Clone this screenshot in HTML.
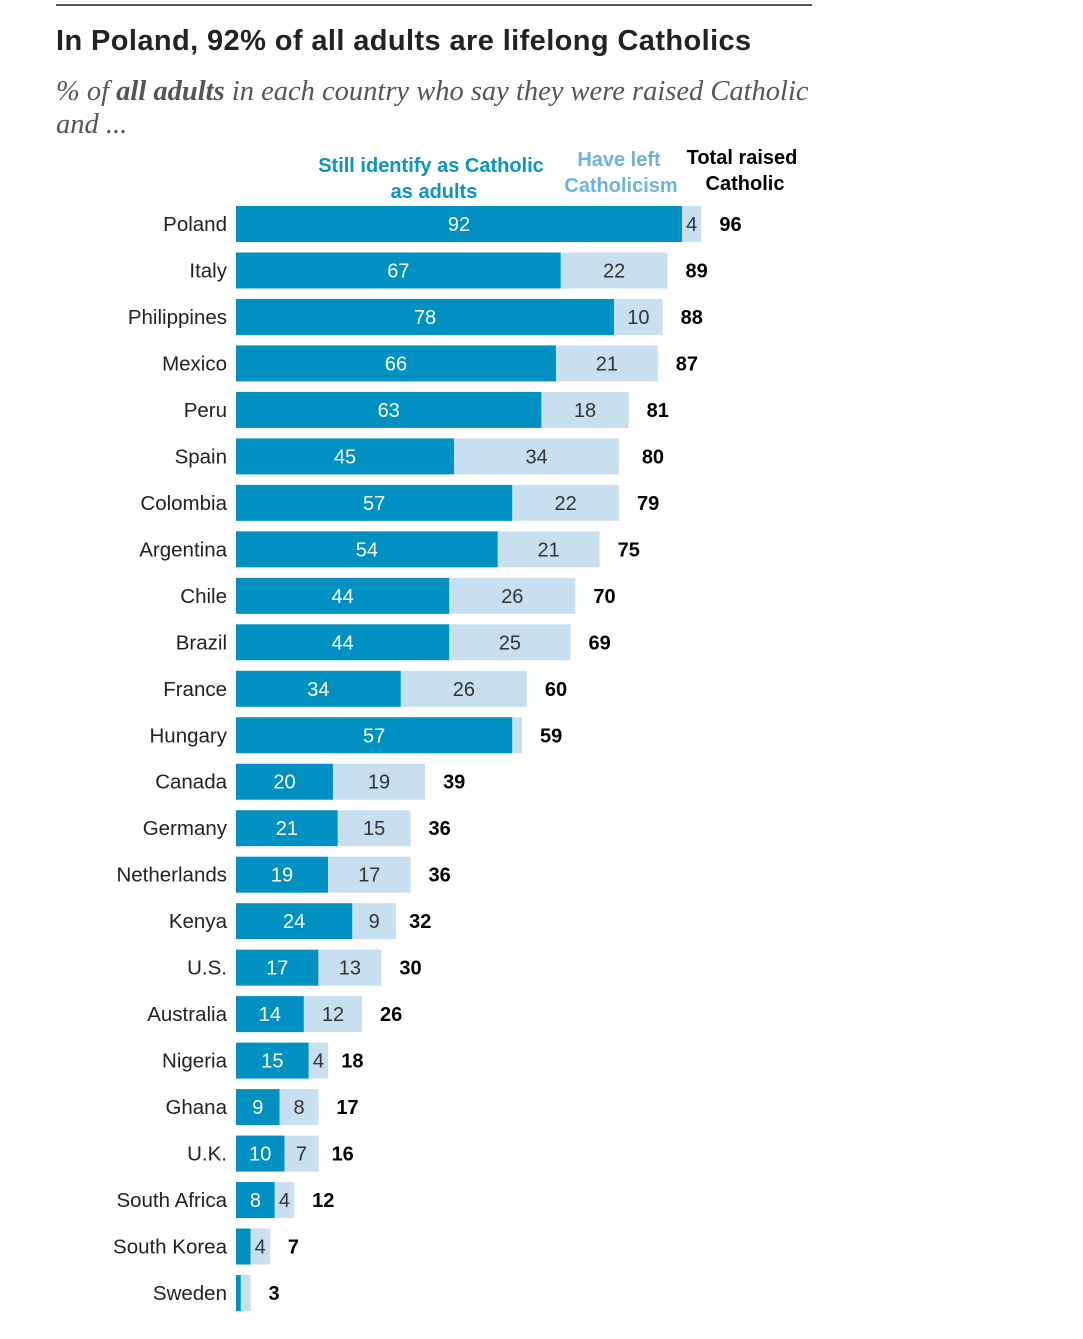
<!DOCTYPE html>
<html><head><meta charset="utf-8">
<style>
html,body{margin:0;padding:0;background:#fff;}
body{width:1083px;height:1339px;position:relative;overflow:hidden;font-family:"Liberation Sans",sans-serif;}
#topline{position:absolute;left:56px;top:4px;width:756px;height:2px;background:#555;}
#title{position:absolute;left:56px;top:25px;font-family:"Liberation Sans Narrow","Liberation Sans",sans-serif;font-weight:bold;font-size:29px;color:#222;white-space:nowrap;letter-spacing:0.4px;}
#subtitle{position:absolute;left:56px;top:75px;width:765px;font-family:"Liberation Serif",serif;font-style:italic;font-size:28.5px;line-height:33px;color:#555;}
svg{position:absolute;left:0;top:0;}
</style></head>
<body>
<div id="topline"></div>
<div id="title">In Poland, 92% of all adults are lifelong Catholics</div>
<div id="subtitle">% of <b>all adults</b> in each country who say they were raised Catholic and ...</div>
<svg id="chart" width="1083" height="1339">
<g font-family="'Liberation Sans Narrow','Liberation Sans',sans-serif" font-weight="bold" font-size="20" text-anchor="middle">
<text x="431" y="172" fill="#0a93c3">Still identify as Catholic</text>
<text x="434" y="198" fill="#0a93c3">as adults</text>
<text x="619" y="166" fill="#6db3dd">Have left</text>
<text x="621" y="192" fill="#6db3dd">Catholicism</text>
<text x="742" y="164" fill="#000">Total raised</text>
<text x="745" y="190" fill="#000">Catholic</text>
</g>
<g id="bars"></g>
</svg>
<script>
const countries=["Poland","Italy","Philippines","Mexico","Peru","Spain","Colombia","Argentina","Chile","Brazil","France","Hungary","Canada","Germany","Netherlands","Kenya","U.S.","Australia","Nigeria","Ghana","U.K.","South Africa","South Korea","Sweden"];
const stillCatholic=[92,67,78,66,63,45,57,54,44,44,34,57,20,21,19,24,17,14,15,9,10,8,3,1];
const leftCatholic=[4,22,10,21,18,34,22,21,26,25,26,2,19,15,17,9,13,12,4,8,7,4,4,2];
const totalRaised=[96,89,88,87,81,80,79,75,70,69,60,59,39,36,36,32,30,26,18,17,16,12,7,3];
const showStill=[1,1,1,1,1,1,1,1,1,1,1,1,1,1,1,1,1,1,1,1,1,1,0,0];
const showLeft=[1,1,1,1,1,1,1,1,1,1,1,0,1,1,1,1,1,1,1,1,1,1,1,0];
const x0=236,k=446/92,yTop=224,step=1069/23,bh=36;
const X=v=>x0+v*k, Y=i=>yTop+i*step;
const g=document.getElementById('bars');
const NS="http://www.w3.org/2000/svg";
function mk(tag,attrs,txt){const e=document.createElementNS(NS,tag);for(const a in attrs)e.setAttribute(a,attrs[a]);if(txt!==undefined)e.textContent=txt;g.appendChild(e);return e;}
countries.forEach((c,i)=>{
  const cy=Y(i);
  const lab=mk('text',{x:227,y:cy+7,'text-anchor':'end','font-size':20.5,fill:'#222','font-family':'Liberation Sans, sans-serif'},c);
  
  
  const d=mk('rect',{x:x0,y:cy-bh/2,width:stillCatholic[i]*k,height:bh,fill:'#0090c1'});
  
  
  const l=mk('rect',{x:X(stillCatholic[i]),y:cy-bh/2,width:leftCatholic[i]*k,height:bh,fill:'#c8dfef'});
  
  
  if(showStill[i]){
    const t=mk('text',{x:x0+stillCatholic[i]*k/2,y:cy+7,'text-anchor':'middle','font-size':20,fill:'#fff'},stillCatholic[i]);
    
    
  }
  if(showLeft[i]){
    const t=mk('text',{x:X(stillCatholic[i]+leftCatholic[i]/2),y:cy+7,'text-anchor':'middle','font-size':20,fill:'#333'},leftCatholic[i]);
    
    
  }
  const tt=mk('text',{x:X(totalRaised[i])+18,y:cy+7,'text-anchor':'start','font-size':20,'font-weight':'bold',fill:'#000'},totalRaised[i]);
  
  
});
</script>
</body></html>
